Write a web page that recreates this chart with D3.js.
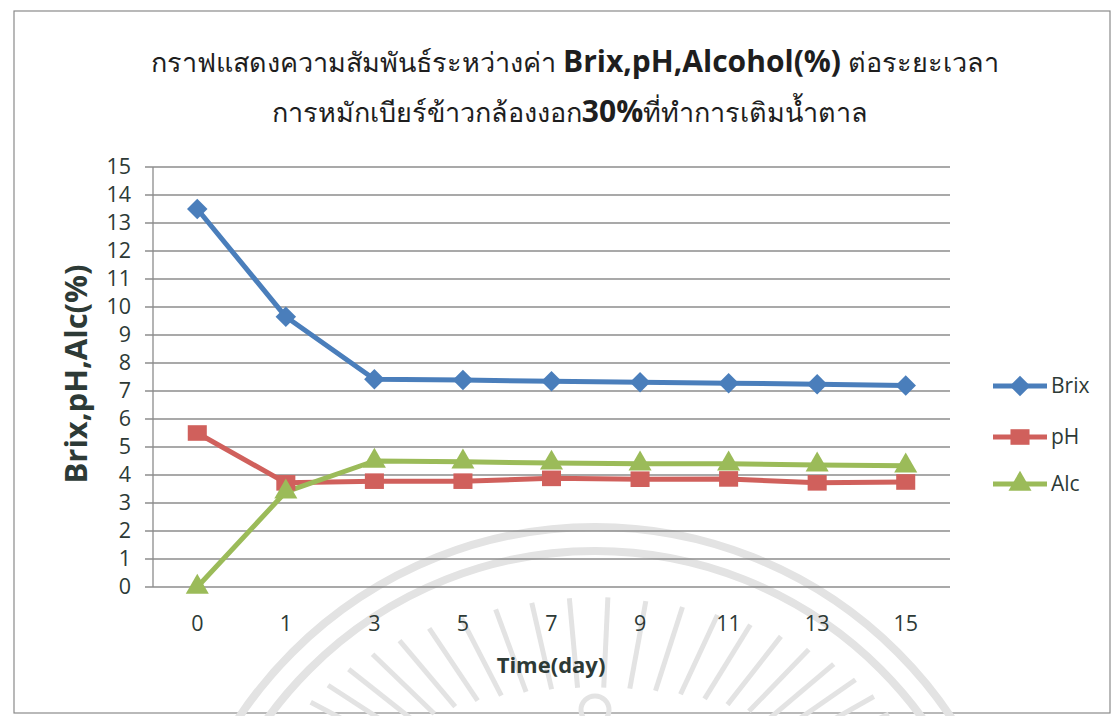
<!DOCTYPE html>
<html><head><meta charset="utf-8">
<script src="https://cdn.jsdelivr.net/npm/d3@7"></script>
<style>
html,body{margin:0;padding:0;background:#fff;}
svg{display:block;}
text{font-family:"Open Sans","Noto Sans","DejaVu Sans",sans-serif;}
</style></head>
<body>
<svg id="c" width="1113" height="716"></svg>
<script>
const categories = ["0","1","3","5","7","9","11","13","15"];
const brix = [13.5, 9.65, 7.42, 7.39, 7.35, 7.31, 7.28, 7.24, 7.2];
const ph   = [5.5, 3.72, 3.78, 3.78, 3.88, 3.85, 3.86, 3.72, 3.75];
const alc  = [0, 3.4, 4.5, 4.47, 4.43, 4.4, 4.4, 4.36, 4.33];
const yTicks = [0,1,2,3,4,5,6,7,8,9,10,11,12,13,14,15];
const seriesNames = ["Brix","pH","Alc"];
const titleLine1 = [["กราฟแสดงความสัมพันธ์ระหว่างค่า ", false],["Brix,pH,Alcohol(%)", true],[" ต่อระยะเวลา", false]];
const titleLine2 = [["การหมักเบียร์ข้าวกล้องงอก", false],["30%", true],["ที่ทำการเติมน้ำตาล", false]];

(function(){
const svg = d3.select("#c");
const txt = "#2d3a36";

svg.append("rect").attr("x",14).attr("y",11).attr("width",1096).attr("height",702)
  .attr("fill","#fff").attr("stroke","#8a8a8a").attr("stroke-width",1.2);

// faint watermark seal
const wm = svg.append("g").attr("fill","none").attr("stroke","#e3e3e3");
const cx = 595, cy = 955;
[428, 404].forEach(r => {
  wm.append("circle").attr("cx",cx).attr("cy",cy).attr("r",r).attr("stroke-width",8);
});
for (let a = -70; a <= 70; a += 6) {
  const rad = (a - 90) * Math.PI/180;
  const r1 = 250, r2 = 370 - Math.abs(a)*0.6;
  wm.append("line")
    .attr("x1", cx + r1*Math.cos(rad)).attr("y1", 800 + r1*Math.sin(rad)*0.45)
    .attr("x2", cx + r2*Math.cos(rad)).attr("y2", 800 + r2*Math.sin(rad)*0.55)
    .attr("stroke-width",5);
}
wm.append("circle").attr("cx",cx).attr("cy",710).attr("r",14).attr("stroke-width",5);

const pLeft = 153, pRight = 950, pTop = 167, pBottom = 587;
const x = d3.scaleBand().domain(categories).range([pLeft, pRight]);
const y = d3.scaleLinear().domain([0,15]).range([pBottom, pTop]);

svg.append("g").selectAll("line").data(yTicks).join("line")
  .attr("x1", pLeft-8).attr("x2", pRight)
  .attr("y1", d=>y(d)).attr("y2", d=>y(d))
  .attr("stroke","#8c8c8c").attr("stroke-width",1.3);

svg.append("line").attr("x1",pLeft).attr("x2",pLeft).attr("y1",pTop).attr("y2",pBottom)
  .attr("stroke","#8c8c8c").attr("stroke-width",1.3);

const yAxis = d3.axisLeft(y).tickValues(yTicks).tickSize(0).tickPadding(0);
const gy = svg.append("g").attr("transform",`translate(${pLeft-22},0)`).call(yAxis);
gy.select(".domain").remove();
gy.selectAll("text").attr("font-size",21.5).attr("fill",txt)
  .attr("font-family","'Open Sans',sans-serif");

const xAxis = d3.axisBottom(x).tickSize(0).tickPadding(0);
const gx = svg.append("g").attr("transform",`translate(0,${pBottom+29})`).call(xAxis);
gx.select(".domain").remove();
gx.selectAll("text").attr("font-size",21.5).attr("fill",txt).attr("dy","0.71em")
  .attr("font-family","'Open Sans',sans-serif");

svg.append("text").attr("x", 551).attr("y", 673).attr("text-anchor","middle")
  .attr("font-size",22).attr("font-weight","bold").attr("fill",txt).text("Time(day)");
svg.append("text").attr("transform","translate(87,374) rotate(-90)").attr("text-anchor","middle")
  .attr("font-size",31).attr("font-weight","bold").attr("fill",txt).text("Brix,pH,Alc(%)");

function titleLine(parts, xPos, yPos) {
  const t = svg.append("text").attr("x", xPos).attr("y", yPos).attr("text-anchor","middle").attr("fill","#1e1e1e");
  parts.forEach(([s,b]) => {
    t.append("tspan").text(s).attr("font-weight", b ? "bold" : 500)
      .attr("font-size", b ? 30 : 27);
  });
}
titleLine(titleLine1, 575, 72);
titleLine(titleLine2, 570, 122);

const colors = ["#4a7ebb","#d0605c","#9bbb59"];
const data = [brix, ph, alc];
const shapes = [d3.symbolSquare, d3.symbolSquare, d3.symbolTriangle];
const sizes = [210, 300, 230];
const rot = [45, 0, 0];
const line = d3.line().x((d,i)=>x(categories[i]) + x.bandwidth()/2).y(d=>y(d));

data.forEach((vals, s) => {
  svg.append("path").datum(vals).attr("d", line).attr("fill","none")
    .attr("stroke", colors[s]).attr("stroke-width",5).attr("stroke-linejoin","round");
});
data.forEach((vals, s) => {
  svg.append("g").selectAll("path").data(vals).join("path")
    .attr("d", d3.symbol().type(shapes[s]).size(sizes[s]))
    .attr("transform",(d,i)=>`translate(${x(categories[i]) + x.bandwidth()/2},${y(d)}) rotate(${rot[s]})` + (s===1 ? " scale(1.1,0.9)" : ""))
    .attr("fill", colors[s]);
});

const legY = [386, 437, 484];
seriesNames.forEach((n, s) => {
  const g = svg.append("g");
  g.append("line").attr("x1",993).attr("x2",1047).attr("y1",legY[s]).attr("y2",legY[s])
    .attr("stroke",colors[s]).attr("stroke-width",5);
  g.append("path").attr("d", d3.symbol().type(shapes[s]).size(sizes[s]))
    .attr("transform",`translate(1020,${legY[s]}) rotate(${rot[s]})` + (s===1 ? " scale(1.1,0.9)" : ""))
    .attr("fill",colors[s]);
  g.append("text").attr("x",1051).attr("y",legY[s]).attr("dy","0.35em")
    .attr("font-size",21).attr("fill",txt).text(n);
});
})();
</script>
</body></html>
